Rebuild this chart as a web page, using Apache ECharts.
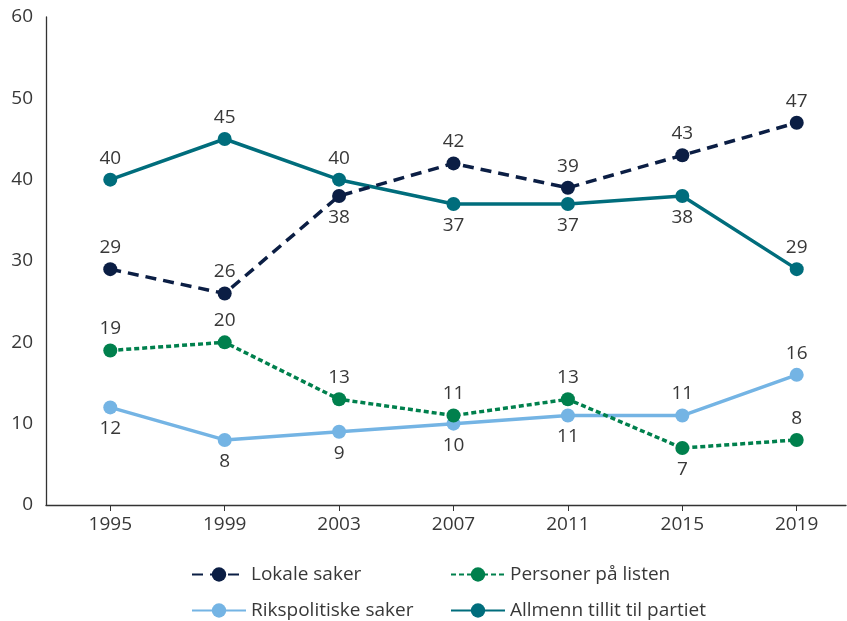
<!DOCTYPE html>
<html><head><meta charset="utf-8">
<script src="https://cdn.jsdelivr.net/npm/echarts@6/dist/echarts.min.js"></script>
<style>html,body{margin:0;padding:0;background:#fff}#c{width:847px;height:621px}</style>
</head><body><div id="c"></div>
<script>
const years = [1995, 1999, 2003, 2007, 2011, 2015, 2019];
const seriesNames = ['Lokale saker', 'Personer på listen', 'Rikspolitiske saker', 'Allmenn tillit til partiet'];
const lokale = [29, 26, 38, 42, 39, 43, 47];
const personer = [19, 20, 13, 11, 13, 7, 8];
const riks = [12, 8, 9, 10, 11, 11, 16];
const allmenn = [40, 45, 40, 37, 37, 38, 29];
const yTicks = [0, 10, 20, 30, 40, 50, 60];

// label placement per point (style, not data)
const lokalePos = ['top', 'top', 'bottom', 'top', 'top', 'top', 'top'];
const personerPos = ['top', 'top', 'top', 'top', 'top', 'bottom', 'top'];
const riksPos = ['bottom', 'bottom', 'bottom', 'bottom', 'bottom', 'top', 'top'];
const allmennPos = ['top', 'top', 'top', 'bottom', 'bottom', 'bottom', 'top'];

const FONT = '"Open Sans"';
const TXT = '#383838';
const FS = 19;

function mk(name, vals, pos, color, type) {
  return {
    name: name, type: 'line',
    data: vals.map((v, i) => ({ value: [years[i], v], label: { position: pos[i] } })),
    symbol: 'circle', symbolSize: 14,
    lineStyle: { color: color, width: 3.5, type: type },
    itemStyle: { color: color },
    label: { show: true, formatter: p => p.value[1], fontFamily: FONT, fontSize: FS, color: TXT, distance: 5 },
    z: 3
  };
}

const chart = echarts.init(document.getElementById('c'), null, { renderer: 'canvas' });
function lg(name, left, top) {
  return {
    data: [name], left: left, top: top, orient: 'horizontal',
    itemWidth: 54, itemHeight: 18, padding: 0, itemGap: 0,
    textStyle: { fontFamily: FONT, fontSize: FS, color: TXT }
  };
}
chart.setOption({
  animation: false,
  grid: { left: 46, right: 1, top: 17, bottom: 116, containLabel: false },
  xAxis: {
    type: 'value', min: 1992.753, max: 2020.723,
    axisLine: { show: true, lineStyle: { color: '#333', width: 1.3 } },
    axisTick: { show: true, customValues: years, length: 6, lineStyle: { color: '#333' } },
    axisLabel: { customValues: years, formatter: v => String(Math.round(v)), fontFamily: FONT, fontSize: FS, color: TXT, margin: 10 },
    splitLine: { show: false }
  },
  yAxis: {
    type: 'value', min: 0, max: 60, interval: 10,
    axisLine: { show: true, lineStyle: { color: '#333', width: 1.3 } },
    axisTick: { show: false },
    axisLabel: { fontFamily: FONT, fontSize: FS, color: TXT, margin: 13 },
    splitLine: { show: false }
  },
  legend: [
    lg(seriesNames[0], 191, 565),
    lg(seriesNames[1], 450, 565),
    lg(seriesNames[2], 191, 601),
    lg(seriesNames[3], 450, 601)
  ],
  series: [
    mk(seriesNames[3], allmenn, allmennPos, '#006d7c', 'solid'),
    mk(seriesNames[2], riks, riksPos, '#74b4e4', 'solid'),
    mk(seriesNames[1], personer, personerPos, '#00804d', [5, 3]),
    mk(seriesNames[0], lokale, lokalePos, '#0b1e44', [11, 7])
  ]
});
</script></body></html>
